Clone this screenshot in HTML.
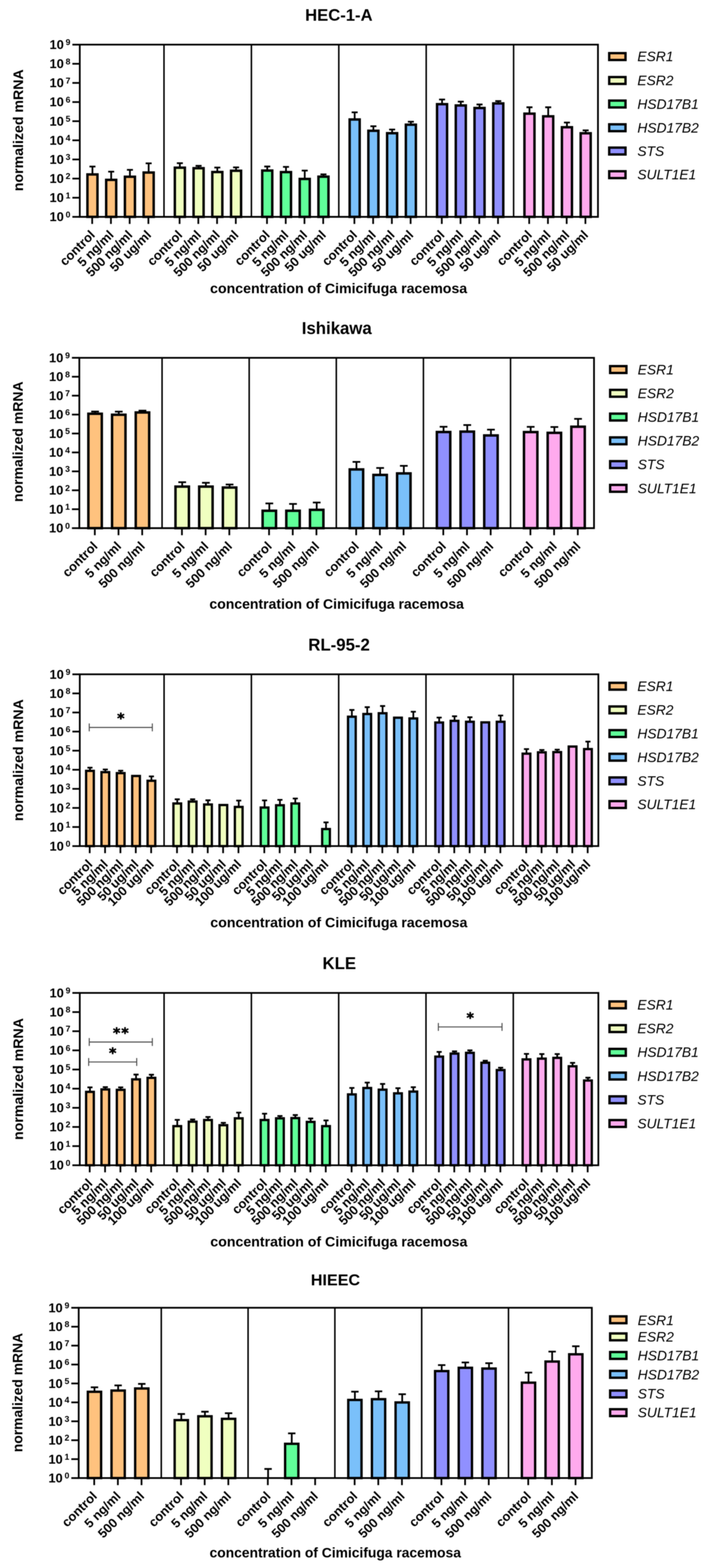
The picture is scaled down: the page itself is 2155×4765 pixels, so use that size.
<!DOCTYPE html>
<html><head><meta charset="utf-8"><title>normalized mRNA</title>
<style>
html,body{margin:0;padding:0;background:#fff;}
svg{display:block;filter:blur(0.8px);}
.b{font-family:"Liberation Sans",Arial,sans-serif;font-weight:bold;fill:#000;}
.i{font-family:"Liberation Sans",Arial,sans-serif;font-style:italic;font-size:42px;fill:#000;}
.a{font-family:"DejaVu Sans",sans-serif;font-weight:bold;font-size:43px;fill:#000;stroke:#000;stroke-width:1.5px;stroke-linejoin:round;}
.l{fill:none;stroke:#000;stroke-linecap:butt;stroke-linejoin:miter;}
.e{fill:none;stroke:#000;stroke-linecap:butt;}
.r{stroke:#000;stroke-linejoin:miter;}
.s{fill:none;stroke:#4d4d4d;stroke-width:3.1;}
</style></head>
<body>
<svg width="2155" height="4765" viewBox="0 0 2155 4765">
<rect width="2155" height="4765" fill="#fff"/>
<g>
<text x="1030" y="63.1" text-anchor="middle" class="b" font-size="50.5">HEC-1-A</text>
<path d="M281 530.1V506.2M271.85 506.2H290.15" class="e" stroke-width="5.3"/>
<path d="M337.95 546.6V521.6M328.8 521.6H347.1" class="e" stroke-width="5.3"/>
<path d="M394.9 537.1V516.1M385.75 516.1H404.05" class="e" stroke-width="5.3"/>
<path d="M451.85 524.3V496.4M442.7 496.4H461" class="e" stroke-width="5.3"/>
<path d="M546.66 509.6V495.9M537.51 495.9H555.81" class="e" stroke-width="5.3"/>
<path d="M603.61 511.2V504M594.46 504H612.76" class="e" stroke-width="5.3"/>
<path d="M660.56 522.8V509.1M651.41 509.1H669.71" class="e" stroke-width="5.3"/>
<path d="M717.51 518.9V508.7M708.36 508.7H726.66" class="e" stroke-width="5.3"/>
<path d="M812.32 518.3V506M803.17 506H821.47" class="e" stroke-width="5.3"/>
<path d="M869.27 523V507.2M860.12 507.2H878.42" class="e" stroke-width="5.3"/>
<path d="M926.22 543.8V518.3M917.07 518.3H935.37" class="e" stroke-width="5.3"/>
<path d="M983.17 536.9V529.9M974.02 529.9H992.32" class="e" stroke-width="5.3"/>
<path d="M1077.98 363.1V341.3M1068.83 341.3H1087.13" class="e" stroke-width="5.3"/>
<path d="M1134.93 397.4V383.7M1125.78 383.7H1144.08" class="e" stroke-width="5.3"/>
<path d="M1191.88 404.8V393.7M1182.73 393.7H1201.03" class="e" stroke-width="5.3"/>
<path d="M1248.83 378.9V369.8M1239.68 369.8H1257.98" class="e" stroke-width="5.3"/>
<path d="M1343.64 316.6V302.4M1334.49 302.4H1352.79" class="e" stroke-width="5.3"/>
<path d="M1400.59 320.5V308.9M1391.44 308.9H1409.74" class="e" stroke-width="5.3"/>
<path d="M1457.54 328.2V317.5M1448.39 317.5H1466.69" class="e" stroke-width="5.3"/>
<path d="M1514.49 314.3V307.1M1505.34 307.1H1523.64" class="e" stroke-width="5.3"/>
<path d="M1609.3 345.4V326M1600.15 326H1618.45" class="e" stroke-width="5.3"/>
<path d="M1666.25 353.5V326M1657.1 326H1675.4" class="e" stroke-width="5.3"/>
<path d="M1723.2 386.7V372.3M1714.05 372.3H1732.35" class="e" stroke-width="5.3"/>
<path d="M1780.15 405V396.2M1771 396.2H1789.3" class="e" stroke-width="5.3"/>
<rect x="265.75" y="530.1" width="30.5" height="128.9" fill="#FFC27E" stroke-width="7.4" class="r"/>
<rect x="322.7" y="546.6" width="30.5" height="112.4" fill="#FFC27E" stroke-width="7.4" class="r"/>
<rect x="379.65" y="537.1" width="30.5" height="121.9" fill="#FFC27E" stroke-width="7.4" class="r"/>
<rect x="436.6" y="524.3" width="30.5" height="134.7" fill="#FFC27E" stroke-width="7.4" class="r"/>
<rect x="531.41" y="509.6" width="30.5" height="149.4" fill="#F0FFC0" stroke-width="7.4" class="r"/>
<rect x="588.36" y="511.2" width="30.5" height="147.8" fill="#F0FFC0" stroke-width="7.4" class="r"/>
<rect x="645.31" y="522.8" width="30.5" height="136.2" fill="#F0FFC0" stroke-width="7.4" class="r"/>
<rect x="702.26" y="518.9" width="30.5" height="140.1" fill="#F0FFC0" stroke-width="7.4" class="r"/>
<rect x="797.07" y="518.3" width="30.5" height="140.7" fill="#60FF99" stroke-width="7.4" class="r"/>
<rect x="854.02" y="523" width="30.5" height="136" fill="#60FF99" stroke-width="7.4" class="r"/>
<rect x="910.97" y="543.8" width="30.5" height="115.2" fill="#60FF99" stroke-width="7.4" class="r"/>
<rect x="967.92" y="536.9" width="30.5" height="122.1" fill="#60FF99" stroke-width="7.4" class="r"/>
<rect x="1062.73" y="363.1" width="30.5" height="295.9" fill="#7AC0FA" stroke-width="7.4" class="r"/>
<rect x="1119.68" y="397.4" width="30.5" height="261.6" fill="#7AC0FA" stroke-width="7.4" class="r"/>
<rect x="1176.63" y="404.8" width="30.5" height="254.2" fill="#7AC0FA" stroke-width="7.4" class="r"/>
<rect x="1233.58" y="378.9" width="30.5" height="280.1" fill="#7AC0FA" stroke-width="7.4" class="r"/>
<rect x="1328.39" y="316.6" width="30.5" height="342.4" fill="#9090FF" stroke-width="7.4" class="r"/>
<rect x="1385.34" y="320.5" width="30.5" height="338.5" fill="#9090FF" stroke-width="7.4" class="r"/>
<rect x="1442.29" y="328.2" width="30.5" height="330.8" fill="#9090FF" stroke-width="7.4" class="r"/>
<rect x="1499.24" y="314.3" width="30.5" height="344.7" fill="#9090FF" stroke-width="7.4" class="r"/>
<rect x="1594.05" y="345.4" width="30.5" height="313.6" fill="#FFAAEE" stroke-width="7.4" class="r"/>
<rect x="1651" y="353.5" width="30.5" height="305.5" fill="#FFAAEE" stroke-width="7.4" class="r"/>
<rect x="1707.95" y="386.7" width="30.5" height="272.3" fill="#FFAAEE" stroke-width="7.4" class="r"/>
<rect x="1764.9" y="405" width="30.5" height="254" fill="#FFAAEE" stroke-width="7.4" class="r"/>
<path d="M242.5 135.7H1817.5V659H242.5Z" class="l" stroke-width="5.3"/>
<path d="M498.46 135.7V659" class="l" stroke-width="4.6"/>
<path d="M764.12 135.7V659" class="l" stroke-width="4.6"/>
<path d="M1029.78 135.7V659" class="l" stroke-width="4.6"/>
<path d="M1295.44 135.7V659" class="l" stroke-width="4.6"/>
<path d="M1561.1 135.7V659" class="l" stroke-width="4.6"/>
<path d="M220 659H242.5" class="l" stroke-width="5.3"/>
<text x="213.9" y="672.3" text-anchor="end" class="b" font-size="39">10<tspan dx="5.6" dy="-11.6" font-size="26">0</tspan></text>
<path d="M220 600.86H242.5" class="l" stroke-width="5.3"/>
<text x="213.9" y="614.16" text-anchor="end" class="b" font-size="39">10<tspan dx="5.6" dy="-11.6" font-size="26">1</tspan></text>
<path d="M220 542.71H242.5" class="l" stroke-width="5.3"/>
<text x="213.9" y="556.01" text-anchor="end" class="b" font-size="39">10<tspan dx="5.6" dy="-11.6" font-size="26">2</tspan></text>
<path d="M220 484.57H242.5" class="l" stroke-width="5.3"/>
<text x="213.9" y="497.87" text-anchor="end" class="b" font-size="39">10<tspan dx="5.6" dy="-11.6" font-size="26">3</tspan></text>
<path d="M220 426.42H242.5" class="l" stroke-width="5.3"/>
<text x="213.9" y="439.72" text-anchor="end" class="b" font-size="39">10<tspan dx="5.6" dy="-11.6" font-size="26">4</tspan></text>
<path d="M220 368.28H242.5" class="l" stroke-width="5.3"/>
<text x="213.9" y="381.58" text-anchor="end" class="b" font-size="39">10<tspan dx="5.6" dy="-11.6" font-size="26">5</tspan></text>
<path d="M220 310.13H242.5" class="l" stroke-width="5.3"/>
<text x="213.9" y="323.43" text-anchor="end" class="b" font-size="39">10<tspan dx="5.6" dy="-11.6" font-size="26">6</tspan></text>
<path d="M220 251.99H242.5" class="l" stroke-width="5.3"/>
<text x="213.9" y="265.29" text-anchor="end" class="b" font-size="39">10<tspan dx="5.6" dy="-11.6" font-size="26">7</tspan></text>
<path d="M220 193.84H242.5" class="l" stroke-width="5.3"/>
<text x="213.9" y="207.14" text-anchor="end" class="b" font-size="39">10<tspan dx="5.6" dy="-11.6" font-size="26">8</tspan></text>
<path d="M220 135.7H242.5" class="l" stroke-width="5.3"/>
<text x="213.9" y="149" text-anchor="end" class="b" font-size="39">10<tspan dx="5.6" dy="-11.6" font-size="26">9</tspan></text>
<path d="M280.2 659V680.5" class="l" stroke-width="5.3"/>
<text transform="translate(291 716.3) rotate(-45)" text-anchor="end" class="b" font-size="39">control</text>
<path d="M337.15 659V680.5" class="l" stroke-width="5.3"/>
<text transform="translate(347.95 716.3) rotate(-45)" text-anchor="end" class="b" font-size="39">5 ng/ml</text>
<path d="M394.1 659V680.5" class="l" stroke-width="5.3"/>
<text transform="translate(404.9 716.3) rotate(-45)" text-anchor="end" class="b" font-size="39">500 ng/ml</text>
<path d="M451.05 659V680.5" class="l" stroke-width="5.3"/>
<text transform="translate(461.85 716.3) rotate(-45)" text-anchor="end" class="b" font-size="39">50 ug/ml</text>
<path d="M545.86 659V680.5" class="l" stroke-width="5.3"/>
<text transform="translate(556.66 716.3) rotate(-45)" text-anchor="end" class="b" font-size="39">control</text>
<path d="M602.81 659V680.5" class="l" stroke-width="5.3"/>
<text transform="translate(613.61 716.3) rotate(-45)" text-anchor="end" class="b" font-size="39">5 ng/ml</text>
<path d="M659.76 659V680.5" class="l" stroke-width="5.3"/>
<text transform="translate(670.56 716.3) rotate(-45)" text-anchor="end" class="b" font-size="39">500 ng/ml</text>
<path d="M716.71 659V680.5" class="l" stroke-width="5.3"/>
<text transform="translate(727.51 716.3) rotate(-45)" text-anchor="end" class="b" font-size="39">50 ug/ml</text>
<path d="M811.52 659V680.5" class="l" stroke-width="5.3"/>
<text transform="translate(822.32 716.3) rotate(-45)" text-anchor="end" class="b" font-size="39">control</text>
<path d="M868.47 659V680.5" class="l" stroke-width="5.3"/>
<text transform="translate(879.27 716.3) rotate(-45)" text-anchor="end" class="b" font-size="39">5 ng/ml</text>
<path d="M925.42 659V680.5" class="l" stroke-width="5.3"/>
<text transform="translate(936.22 716.3) rotate(-45)" text-anchor="end" class="b" font-size="39">500 ng/ml</text>
<path d="M982.37 659V680.5" class="l" stroke-width="5.3"/>
<text transform="translate(993.17 716.3) rotate(-45)" text-anchor="end" class="b" font-size="39">50 ug/ml</text>
<path d="M1077.18 659V680.5" class="l" stroke-width="5.3"/>
<text transform="translate(1087.98 716.3) rotate(-45)" text-anchor="end" class="b" font-size="39">control</text>
<path d="M1134.13 659V680.5" class="l" stroke-width="5.3"/>
<text transform="translate(1144.93 716.3) rotate(-45)" text-anchor="end" class="b" font-size="39">5 ng/ml</text>
<path d="M1191.08 659V680.5" class="l" stroke-width="5.3"/>
<text transform="translate(1201.88 716.3) rotate(-45)" text-anchor="end" class="b" font-size="39">500 ng/ml</text>
<path d="M1248.03 659V680.5" class="l" stroke-width="5.3"/>
<text transform="translate(1258.83 716.3) rotate(-45)" text-anchor="end" class="b" font-size="39">50 ug/ml</text>
<path d="M1342.84 659V680.5" class="l" stroke-width="5.3"/>
<text transform="translate(1353.64 716.3) rotate(-45)" text-anchor="end" class="b" font-size="39">control</text>
<path d="M1399.79 659V680.5" class="l" stroke-width="5.3"/>
<text transform="translate(1410.59 716.3) rotate(-45)" text-anchor="end" class="b" font-size="39">5 ng/ml</text>
<path d="M1456.74 659V680.5" class="l" stroke-width="5.3"/>
<text transform="translate(1467.54 716.3) rotate(-45)" text-anchor="end" class="b" font-size="39">500 ng/ml</text>
<path d="M1513.69 659V680.5" class="l" stroke-width="5.3"/>
<text transform="translate(1524.49 716.3) rotate(-45)" text-anchor="end" class="b" font-size="39">50 ug/ml</text>
<path d="M1608.5 659V680.5" class="l" stroke-width="5.3"/>
<text transform="translate(1619.3 716.3) rotate(-45)" text-anchor="end" class="b" font-size="39">control</text>
<path d="M1665.45 659V680.5" class="l" stroke-width="5.3"/>
<text transform="translate(1676.25 716.3) rotate(-45)" text-anchor="end" class="b" font-size="39">5 ng/ml</text>
<path d="M1722.4 659V680.5" class="l" stroke-width="5.3"/>
<text transform="translate(1733.2 716.3) rotate(-45)" text-anchor="end" class="b" font-size="39">500 ng/ml</text>
<path d="M1779.35 659V680.5" class="l" stroke-width="5.3"/>
<text transform="translate(1790.15 716.3) rotate(-45)" text-anchor="end" class="b" font-size="39">50 ug/ml</text>
<text x="1029.3" y="890.5" text-anchor="middle" class="b" font-size="43">concentration of Cimicifuga racemosa</text>
<text transform="translate(69.7 395.9) rotate(-90)" text-anchor="middle" class="b" font-size="43">normalized mRNA</text>
<rect x="1851.7" y="161.5" width="49.5" height="20.8" fill="#FFC27E" stroke-width="7.2" class="r"/>
<text x="1937.2" y="186.4" class="i">ESR1</text>
<rect x="1851.7" y="234.2" width="49.5" height="20.8" fill="#F0FFC0" stroke-width="7.2" class="r"/>
<text x="1937.2" y="259.1" class="i">ESR2</text>
<rect x="1851.7" y="305.7" width="49.5" height="20.8" fill="#60FF99" stroke-width="7.2" class="r"/>
<text x="1937.2" y="330.6" class="i">HSD17B1</text>
<rect x="1851.7" y="377.8" width="49.5" height="20.8" fill="#7AC0FA" stroke-width="7.2" class="r"/>
<text x="1937.2" y="402.7" class="i">HSD17B2</text>
<rect x="1851.7" y="448.6" width="49.5" height="20.8" fill="#9090FF" stroke-width="7.2" class="r"/>
<text x="1937.2" y="473.5" class="i">STS</text>
<rect x="1851.7" y="520.4" width="49.5" height="20.8" fill="#FFAAEE" stroke-width="7.2" class="r"/>
<text x="1937.2" y="545.3" class="i">SULT1E1</text>
</g>
<g>
<text x="1023.6" y="1015.4" text-anchor="middle" class="b" font-size="51">Ishikawa</text>
<path d="M289 1257.35V1250.6M277.25 1250.6H300.75" class="e" stroke-width="5.3"/>
<path d="M361 1260.35V1250.8M349.25 1250.8H372.75" class="e" stroke-width="5.3"/>
<path d="M433 1253.45V1247.8M421.25 1247.8H444.75" class="e" stroke-width="5.3"/>
<path d="M553.8 1478.75V1465.4M542.05 1465.4H565.55" class="e" stroke-width="5.3"/>
<path d="M625.8 1478.75V1467.2M614.05 1467.2H637.55" class="e" stroke-width="5.3"/>
<path d="M697.8 1481.55V1472.3M686.05 1472.3H709.55" class="e" stroke-width="5.3"/>
<path d="M818.6 1552.15V1529.9M806.85 1529.9H830.35" class="e" stroke-width="5.3"/>
<path d="M890.6 1552.15V1531.3M878.85 1531.3H902.35" class="e" stroke-width="5.3"/>
<path d="M962.6 1549.35V1527.1M950.85 1527.1H974.35" class="e" stroke-width="5.3"/>
<path d="M1083.4 1426.55V1403.6M1071.65 1403.6H1095.15" class="e" stroke-width="5.3"/>
<path d="M1155.4 1443.25V1422.1M1143.65 1422.1H1167.15" class="e" stroke-width="5.3"/>
<path d="M1227.4 1438.65V1415.7M1215.65 1415.7H1239.15" class="e" stroke-width="5.3"/>
<path d="M1348.2 1312.85V1296.8M1336.45 1296.8H1359.95" class="e" stroke-width="5.3"/>
<path d="M1420.2 1311.65V1291.7M1408.45 1291.7H1431.95" class="e" stroke-width="5.3"/>
<path d="M1492.2 1323.25V1305.6M1480.45 1305.6H1503.95" class="e" stroke-width="5.3"/>
<path d="M1613 1313.05V1297.2M1601.25 1297.2H1624.75" class="e" stroke-width="5.3"/>
<path d="M1685 1315.35V1297.7M1673.25 1297.7H1696.75" class="e" stroke-width="5.3"/>
<path d="M1757 1296.75V1272.9M1745.25 1272.9H1768.75" class="e" stroke-width="5.3"/>
<rect x="268.6" y="1257.35" width="40.8" height="347.65" fill="#FFC27E" stroke-width="7.5" class="r"/>
<rect x="340.6" y="1260.35" width="40.8" height="344.65" fill="#FFC27E" stroke-width="7.5" class="r"/>
<rect x="412.6" y="1253.45" width="40.8" height="351.55" fill="#FFC27E" stroke-width="7.5" class="r"/>
<rect x="533.4" y="1478.75" width="40.8" height="126.25" fill="#F0FFC0" stroke-width="7.5" class="r"/>
<rect x="605.4" y="1478.75" width="40.8" height="126.25" fill="#F0FFC0" stroke-width="7.5" class="r"/>
<rect x="677.4" y="1481.55" width="40.8" height="123.45" fill="#F0FFC0" stroke-width="7.5" class="r"/>
<rect x="798.2" y="1552.15" width="40.8" height="52.85" fill="#60FF99" stroke-width="7.5" class="r"/>
<rect x="870.2" y="1552.15" width="40.8" height="52.85" fill="#60FF99" stroke-width="7.5" class="r"/>
<rect x="942.2" y="1549.35" width="40.8" height="55.65" fill="#60FF99" stroke-width="7.5" class="r"/>
<rect x="1063" y="1426.55" width="40.8" height="178.45" fill="#7AC0FA" stroke-width="7.5" class="r"/>
<rect x="1135" y="1443.25" width="40.8" height="161.75" fill="#7AC0FA" stroke-width="7.5" class="r"/>
<rect x="1207" y="1438.65" width="40.8" height="166.35" fill="#7AC0FA" stroke-width="7.5" class="r"/>
<rect x="1327.8" y="1312.85" width="40.8" height="292.15" fill="#9090FF" stroke-width="7.5" class="r"/>
<rect x="1399.8" y="1311.65" width="40.8" height="293.35" fill="#9090FF" stroke-width="7.5" class="r"/>
<rect x="1471.8" y="1323.25" width="40.8" height="281.75" fill="#9090FF" stroke-width="7.5" class="r"/>
<rect x="1592.6" y="1313.05" width="40.8" height="291.95" fill="#FFAAEE" stroke-width="7.5" class="r"/>
<rect x="1664.6" y="1315.35" width="40.8" height="289.65" fill="#FFAAEE" stroke-width="7.5" class="r"/>
<rect x="1736.6" y="1296.75" width="40.8" height="308.25" fill="#FFAAEE" stroke-width="7.5" class="r"/>
<path d="M241.1 1087.3H1805.5V1605H241.1Z" class="l" stroke-width="5.3"/>
<path d="M492.6 1087.3V1605" class="l" stroke-width="4.6"/>
<path d="M757.4 1087.3V1605" class="l" stroke-width="4.6"/>
<path d="M1022.2 1087.3V1605" class="l" stroke-width="4.6"/>
<path d="M1287 1087.3V1605" class="l" stroke-width="4.6"/>
<path d="M1551.8 1087.3V1605" class="l" stroke-width="4.6"/>
<path d="M218.6 1605H241.1" class="l" stroke-width="5.3"/>
<text x="212.5" y="1618.3" text-anchor="end" class="b" font-size="39">10<tspan dx="5.6" dy="-11.6" font-size="26">0</tspan></text>
<path d="M218.6 1547.48H241.1" class="l" stroke-width="5.3"/>
<text x="212.5" y="1560.78" text-anchor="end" class="b" font-size="39">10<tspan dx="5.6" dy="-11.6" font-size="26">1</tspan></text>
<path d="M218.6 1489.96H241.1" class="l" stroke-width="5.3"/>
<text x="212.5" y="1503.26" text-anchor="end" class="b" font-size="39">10<tspan dx="5.6" dy="-11.6" font-size="26">2</tspan></text>
<path d="M218.6 1432.43H241.1" class="l" stroke-width="5.3"/>
<text x="212.5" y="1445.73" text-anchor="end" class="b" font-size="39">10<tspan dx="5.6" dy="-11.6" font-size="26">3</tspan></text>
<path d="M218.6 1374.91H241.1" class="l" stroke-width="5.3"/>
<text x="212.5" y="1388.21" text-anchor="end" class="b" font-size="39">10<tspan dx="5.6" dy="-11.6" font-size="26">4</tspan></text>
<path d="M218.6 1317.39H241.1" class="l" stroke-width="5.3"/>
<text x="212.5" y="1330.69" text-anchor="end" class="b" font-size="39">10<tspan dx="5.6" dy="-11.6" font-size="26">5</tspan></text>
<path d="M218.6 1259.87H241.1" class="l" stroke-width="5.3"/>
<text x="212.5" y="1273.17" text-anchor="end" class="b" font-size="39">10<tspan dx="5.6" dy="-11.6" font-size="26">6</tspan></text>
<path d="M218.6 1202.34H241.1" class="l" stroke-width="5.3"/>
<text x="212.5" y="1215.64" text-anchor="end" class="b" font-size="39">10<tspan dx="5.6" dy="-11.6" font-size="26">7</tspan></text>
<path d="M218.6 1144.82H241.1" class="l" stroke-width="5.3"/>
<text x="212.5" y="1158.12" text-anchor="end" class="b" font-size="39">10<tspan dx="5.6" dy="-11.6" font-size="26">8</tspan></text>
<path d="M218.6 1087.3H241.1" class="l" stroke-width="5.3"/>
<text x="212.5" y="1100.6" text-anchor="end" class="b" font-size="39">10<tspan dx="5.6" dy="-11.6" font-size="26">9</tspan></text>
<path d="M288.2 1605V1626.5" class="l" stroke-width="5.3"/>
<text transform="translate(299 1662.3) rotate(-45)" text-anchor="end" class="b" font-size="39">control</text>
<path d="M360.2 1605V1626.5" class="l" stroke-width="5.3"/>
<text transform="translate(371 1662.3) rotate(-45)" text-anchor="end" class="b" font-size="39">5 ng/ml</text>
<path d="M432.2 1605V1626.5" class="l" stroke-width="5.3"/>
<text transform="translate(443 1662.3) rotate(-45)" text-anchor="end" class="b" font-size="39">500 ng/ml</text>
<path d="M553 1605V1626.5" class="l" stroke-width="5.3"/>
<text transform="translate(563.8 1662.3) rotate(-45)" text-anchor="end" class="b" font-size="39">control</text>
<path d="M625 1605V1626.5" class="l" stroke-width="5.3"/>
<text transform="translate(635.8 1662.3) rotate(-45)" text-anchor="end" class="b" font-size="39">5 ng/ml</text>
<path d="M697 1605V1626.5" class="l" stroke-width="5.3"/>
<text transform="translate(707.8 1662.3) rotate(-45)" text-anchor="end" class="b" font-size="39">500 ng/ml</text>
<path d="M817.8 1605V1626.5" class="l" stroke-width="5.3"/>
<text transform="translate(828.6 1662.3) rotate(-45)" text-anchor="end" class="b" font-size="39">control</text>
<path d="M889.8 1605V1626.5" class="l" stroke-width="5.3"/>
<text transform="translate(900.6 1662.3) rotate(-45)" text-anchor="end" class="b" font-size="39">5 ng/ml</text>
<path d="M961.8 1605V1626.5" class="l" stroke-width="5.3"/>
<text transform="translate(972.6 1662.3) rotate(-45)" text-anchor="end" class="b" font-size="39">500 ng/ml</text>
<path d="M1082.6 1605V1626.5" class="l" stroke-width="5.3"/>
<text transform="translate(1093.4 1662.3) rotate(-45)" text-anchor="end" class="b" font-size="39">control</text>
<path d="M1154.6 1605V1626.5" class="l" stroke-width="5.3"/>
<text transform="translate(1165.4 1662.3) rotate(-45)" text-anchor="end" class="b" font-size="39">5 ng/ml</text>
<path d="M1226.6 1605V1626.5" class="l" stroke-width="5.3"/>
<text transform="translate(1237.4 1662.3) rotate(-45)" text-anchor="end" class="b" font-size="39">500 ng/ml</text>
<path d="M1347.4 1605V1626.5" class="l" stroke-width="5.3"/>
<text transform="translate(1358.2 1662.3) rotate(-45)" text-anchor="end" class="b" font-size="39">control</text>
<path d="M1419.4 1605V1626.5" class="l" stroke-width="5.3"/>
<text transform="translate(1430.2 1662.3) rotate(-45)" text-anchor="end" class="b" font-size="39">5 ng/ml</text>
<path d="M1491.4 1605V1626.5" class="l" stroke-width="5.3"/>
<text transform="translate(1502.2 1662.3) rotate(-45)" text-anchor="end" class="b" font-size="39">500 ng/ml</text>
<path d="M1612.2 1605V1626.5" class="l" stroke-width="5.3"/>
<text transform="translate(1623 1662.3) rotate(-45)" text-anchor="end" class="b" font-size="39">control</text>
<path d="M1684.2 1605V1626.5" class="l" stroke-width="5.3"/>
<text transform="translate(1695 1662.3) rotate(-45)" text-anchor="end" class="b" font-size="39">5 ng/ml</text>
<path d="M1756.2 1605V1626.5" class="l" stroke-width="5.3"/>
<text transform="translate(1767 1662.3) rotate(-45)" text-anchor="end" class="b" font-size="39">500 ng/ml</text>
<text x="1023.3" y="1850" text-anchor="middle" class="b" font-size="42.57">concentration of Cimicifuga racemosa</text>
<text transform="translate(68.6 1342.3) rotate(-90)" text-anchor="middle" class="b" font-size="42.57">normalized mRNA</text>
<rect x="1854.5" y="1112.6" width="49.5" height="20.8" fill="#FFC27E" stroke-width="7.2" class="r"/>
<text x="1938.3" y="1137.5" class="i">ESR1</text>
<rect x="1854.5" y="1184.8" width="49.5" height="20.8" fill="#F0FFC0" stroke-width="7.2" class="r"/>
<text x="1938.3" y="1209.7" class="i">ESR2</text>
<rect x="1854.5" y="1257" width="49.5" height="20.8" fill="#60FF99" stroke-width="7.2" class="r"/>
<text x="1938.3" y="1281.9" class="i">HSD17B1</text>
<rect x="1854.5" y="1329.2" width="49.5" height="20.8" fill="#7AC0FA" stroke-width="7.2" class="r"/>
<text x="1938.3" y="1354.1" class="i">HSD17B2</text>
<rect x="1854.5" y="1401.4" width="49.5" height="20.8" fill="#9090FF" stroke-width="7.2" class="r"/>
<text x="1938.3" y="1426.3" class="i">STS</text>
<rect x="1854.5" y="1473.6" width="49.5" height="20.8" fill="#FFAAEE" stroke-width="7.2" class="r"/>
<text x="1938.3" y="1498.5" class="i">SULT1E1</text>
</g>
<g>
<text x="1030.6" y="1977.2" text-anchor="middle" class="b" font-size="51">RL-95-2</text>
<path d="M273.43 2342.6V2332.8M265.68 2332.8H281.18" class="e" stroke-width="5.3"/>
<path d="M320.13 2346.5V2338.4M312.38 2338.4H327.88" class="e" stroke-width="5.3"/>
<path d="M366.83 2349.5V2342.1M359.08 2342.1H374.58" class="e" stroke-width="5.3"/>
<path d="M460.23 2372.7V2359.3M452.48 2359.3H467.98" class="e" stroke-width="5.3"/>
<path d="M538.79 2441.7V2429M531.04 2429H546.54" class="e" stroke-width="5.3"/>
<path d="M585.49 2435.9V2429M577.74 2429H593.24" class="e" stroke-width="5.3"/>
<path d="M632.19 2444.8V2432M624.44 2432H639.94" class="e" stroke-width="5.3"/>
<path d="M725.59 2452.2V2432.9M717.84 2432.9H733.34" class="e" stroke-width="5.3"/>
<path d="M804.15 2454V2432.4M796.4 2432.4H811.9" class="e" stroke-width="5.3"/>
<path d="M850.85 2447.1V2430.6M843.1 2430.6H858.6" class="e" stroke-width="5.3"/>
<path d="M897.55 2441.7V2426.7M889.8 2426.7H905.3" class="e" stroke-width="5.3"/>
<path d="M990.95 2519.4V2499.2M983.2 2499.2H998.7" class="e" stroke-width="5.3"/>
<path d="M1069.51 2178V2157.5M1061.76 2157.5H1077.26" class="e" stroke-width="5.3"/>
<path d="M1116.21 2169.8V2149M1108.46 2149H1123.96" class="e" stroke-width="5.3"/>
<path d="M1162.91 2167.5V2145.5M1155.16 2145.5H1170.66" class="e" stroke-width="5.3"/>
<path d="M1256.31 2183.3V2162.9M1248.56 2162.9H1264.06" class="e" stroke-width="5.3"/>
<path d="M1334.87 2195.7V2180.6M1327.12 2180.6H1342.62" class="e" stroke-width="5.3"/>
<path d="M1381.57 2190.6V2176.7M1373.82 2176.7H1389.32" class="e" stroke-width="5.3"/>
<path d="M1428.27 2193.4V2179.7M1420.52 2179.7H1436.02" class="e" stroke-width="5.3"/>
<path d="M1521.67 2193.4V2174.3M1513.92 2174.3H1529.42" class="e" stroke-width="5.3"/>
<path d="M1600.23 2290.3V2276.3M1592.48 2276.3H1607.98" class="e" stroke-width="5.3"/>
<path d="M1646.93 2286.3V2279.1M1639.18 2279.1H1654.68" class="e" stroke-width="5.3"/>
<path d="M1693.63 2285.6V2278.2M1685.88 2278.2H1701.38" class="e" stroke-width="5.3"/>
<path d="M1787.03 2276.4V2253.6M1779.28 2253.6H1794.78" class="e" stroke-width="5.3"/>
<rect x="261.73" y="2342.6" width="23.4" height="228.6" fill="#FFC27E" stroke-width="7" class="r"/>
<rect x="308.43" y="2346.5" width="23.4" height="224.7" fill="#FFC27E" stroke-width="7" class="r"/>
<rect x="355.13" y="2349.5" width="23.4" height="221.7" fill="#FFC27E" stroke-width="7" class="r"/>
<rect x="401.83" y="2358.1" width="23.4" height="213.1" fill="#FFC27E" stroke-width="7" class="r"/>
<rect x="448.53" y="2372.7" width="23.4" height="198.5" fill="#FFC27E" stroke-width="7" class="r"/>
<rect x="527.09" y="2441.7" width="23.4" height="129.5" fill="#F0FFC0" stroke-width="7" class="r"/>
<rect x="573.79" y="2435.9" width="23.4" height="135.3" fill="#F0FFC0" stroke-width="7" class="r"/>
<rect x="620.49" y="2444.8" width="23.4" height="126.4" fill="#F0FFC0" stroke-width="7" class="r"/>
<rect x="667.19" y="2446.4" width="23.4" height="124.8" fill="#F0FFC0" stroke-width="7" class="r"/>
<rect x="713.89" y="2452.2" width="23.4" height="119" fill="#F0FFC0" stroke-width="7" class="r"/>
<rect x="792.45" y="2454" width="23.4" height="117.2" fill="#60FF99" stroke-width="7" class="r"/>
<rect x="839.15" y="2447.1" width="23.4" height="124.1" fill="#60FF99" stroke-width="7" class="r"/>
<rect x="885.85" y="2441.7" width="23.4" height="129.5" fill="#60FF99" stroke-width="7" class="r"/>
<rect x="979.25" y="2519.4" width="23.4" height="51.8" fill="#60FF99" stroke-width="7" class="r"/>
<rect x="1057.81" y="2178" width="23.4" height="393.2" fill="#7AC0FA" stroke-width="7" class="r"/>
<rect x="1104.51" y="2169.8" width="23.4" height="401.4" fill="#7AC0FA" stroke-width="7" class="r"/>
<rect x="1151.21" y="2167.5" width="23.4" height="403.7" fill="#7AC0FA" stroke-width="7" class="r"/>
<rect x="1197.91" y="2181" width="23.4" height="390.2" fill="#7AC0FA" stroke-width="7" class="r"/>
<rect x="1244.61" y="2183.3" width="23.4" height="387.9" fill="#7AC0FA" stroke-width="7" class="r"/>
<rect x="1323.17" y="2195.7" width="23.4" height="375.5" fill="#9090FF" stroke-width="7" class="r"/>
<rect x="1369.87" y="2190.6" width="23.4" height="380.6" fill="#9090FF" stroke-width="7" class="r"/>
<rect x="1416.57" y="2193.4" width="23.4" height="377.8" fill="#9090FF" stroke-width="7" class="r"/>
<rect x="1463.27" y="2195.2" width="23.4" height="376" fill="#9090FF" stroke-width="7" class="r"/>
<rect x="1509.97" y="2193.4" width="23.4" height="377.8" fill="#9090FF" stroke-width="7" class="r"/>
<rect x="1588.53" y="2290.3" width="23.4" height="280.9" fill="#FFAAEE" stroke-width="7" class="r"/>
<rect x="1635.23" y="2286.3" width="23.4" height="284.9" fill="#FFAAEE" stroke-width="7" class="r"/>
<rect x="1681.93" y="2285.6" width="23.4" height="285.6" fill="#FFAAEE" stroke-width="7" class="r"/>
<rect x="1728.63" y="2268.7" width="23.4" height="302.5" fill="#FFAAEE" stroke-width="7" class="r"/>
<rect x="1775.33" y="2276.4" width="23.4" height="294.8" fill="#FFAAEE" stroke-width="7" class="r"/>
<path d="M242.5 2049.2H1818.7V2571.2H242.5Z" class="l" stroke-width="5.3"/>
<path d="M498.71 2049.2V2571.2" class="l" stroke-width="4.6"/>
<path d="M764.07 2049.2V2571.2" class="l" stroke-width="4.6"/>
<path d="M1029.43 2049.2V2571.2" class="l" stroke-width="4.6"/>
<path d="M1294.79 2049.2V2571.2" class="l" stroke-width="4.6"/>
<path d="M1560.15 2049.2V2571.2" class="l" stroke-width="4.6"/>
<path d="M220 2571.2H242.5" class="l" stroke-width="5.3"/>
<text x="213.9" y="2584.5" text-anchor="end" class="b" font-size="39">10<tspan dx="5.6" dy="-11.6" font-size="26">0</tspan></text>
<path d="M220 2513.2H242.5" class="l" stroke-width="5.3"/>
<text x="213.9" y="2526.5" text-anchor="end" class="b" font-size="39">10<tspan dx="5.6" dy="-11.6" font-size="26">1</tspan></text>
<path d="M220 2455.2H242.5" class="l" stroke-width="5.3"/>
<text x="213.9" y="2468.5" text-anchor="end" class="b" font-size="39">10<tspan dx="5.6" dy="-11.6" font-size="26">2</tspan></text>
<path d="M220 2397.2H242.5" class="l" stroke-width="5.3"/>
<text x="213.9" y="2410.5" text-anchor="end" class="b" font-size="39">10<tspan dx="5.6" dy="-11.6" font-size="26">3</tspan></text>
<path d="M220 2339.2H242.5" class="l" stroke-width="5.3"/>
<text x="213.9" y="2352.5" text-anchor="end" class="b" font-size="39">10<tspan dx="5.6" dy="-11.6" font-size="26">4</tspan></text>
<path d="M220 2281.2H242.5" class="l" stroke-width="5.3"/>
<text x="213.9" y="2294.5" text-anchor="end" class="b" font-size="39">10<tspan dx="5.6" dy="-11.6" font-size="26">5</tspan></text>
<path d="M220 2223.2H242.5" class="l" stroke-width="5.3"/>
<text x="213.9" y="2236.5" text-anchor="end" class="b" font-size="39">10<tspan dx="5.6" dy="-11.6" font-size="26">6</tspan></text>
<path d="M220 2165.2H242.5" class="l" stroke-width="5.3"/>
<text x="213.9" y="2178.5" text-anchor="end" class="b" font-size="39">10<tspan dx="5.6" dy="-11.6" font-size="26">7</tspan></text>
<path d="M220 2107.2H242.5" class="l" stroke-width="5.3"/>
<text x="213.9" y="2120.5" text-anchor="end" class="b" font-size="39">10<tspan dx="5.6" dy="-11.6" font-size="26">8</tspan></text>
<path d="M220 2049.2H242.5" class="l" stroke-width="5.3"/>
<text x="213.9" y="2062.5" text-anchor="end" class="b" font-size="39">10<tspan dx="5.6" dy="-11.6" font-size="26">9</tspan></text>
<path d="M272.63 2571.2V2592.7" class="l" stroke-width="5.3"/>
<text transform="translate(283.43 2628.5) rotate(-45)" text-anchor="end" class="b" font-size="39">control</text>
<path d="M319.33 2571.2V2592.7" class="l" stroke-width="5.3"/>
<text transform="translate(330.13 2628.5) rotate(-45)" text-anchor="end" class="b" font-size="39">5 ng/ml</text>
<path d="M366.03 2571.2V2592.7" class="l" stroke-width="5.3"/>
<text transform="translate(376.83 2628.5) rotate(-45)" text-anchor="end" class="b" font-size="39">500 ng/ml</text>
<path d="M412.73 2571.2V2592.7" class="l" stroke-width="5.3"/>
<text transform="translate(423.53 2628.5) rotate(-45)" text-anchor="end" class="b" font-size="39">50 ug/ml</text>
<path d="M459.43 2571.2V2592.7" class="l" stroke-width="5.3"/>
<text transform="translate(470.23 2628.5) rotate(-45)" text-anchor="end" class="b" font-size="39">100 ug/ml</text>
<path d="M537.99 2571.2V2592.7" class="l" stroke-width="5.3"/>
<text transform="translate(548.79 2628.5) rotate(-45)" text-anchor="end" class="b" font-size="39">control</text>
<path d="M584.69 2571.2V2592.7" class="l" stroke-width="5.3"/>
<text transform="translate(595.49 2628.5) rotate(-45)" text-anchor="end" class="b" font-size="39">5 ng/ml</text>
<path d="M631.39 2571.2V2592.7" class="l" stroke-width="5.3"/>
<text transform="translate(642.19 2628.5) rotate(-45)" text-anchor="end" class="b" font-size="39">500 ng/ml</text>
<path d="M678.09 2571.2V2592.7" class="l" stroke-width="5.3"/>
<text transform="translate(688.89 2628.5) rotate(-45)" text-anchor="end" class="b" font-size="39">50 ug/ml</text>
<path d="M724.79 2571.2V2592.7" class="l" stroke-width="5.3"/>
<text transform="translate(735.59 2628.5) rotate(-45)" text-anchor="end" class="b" font-size="39">100 ug/ml</text>
<path d="M803.35 2571.2V2592.7" class="l" stroke-width="5.3"/>
<text transform="translate(814.15 2628.5) rotate(-45)" text-anchor="end" class="b" font-size="39">control</text>
<path d="M850.05 2571.2V2592.7" class="l" stroke-width="5.3"/>
<text transform="translate(860.85 2628.5) rotate(-45)" text-anchor="end" class="b" font-size="39">5 ng/ml</text>
<path d="M896.75 2571.2V2592.7" class="l" stroke-width="5.3"/>
<text transform="translate(907.55 2628.5) rotate(-45)" text-anchor="end" class="b" font-size="39">500 ng/ml</text>
<path d="M943.45 2571.2V2592.7" class="l" stroke-width="5.3"/>
<text transform="translate(954.25 2628.5) rotate(-45)" text-anchor="end" class="b" font-size="39">50 ug/ml</text>
<path d="M990.15 2571.2V2592.7" class="l" stroke-width="5.3"/>
<text transform="translate(1000.95 2628.5) rotate(-45)" text-anchor="end" class="b" font-size="39">100 ug/ml</text>
<path d="M1068.71 2571.2V2592.7" class="l" stroke-width="5.3"/>
<text transform="translate(1079.51 2628.5) rotate(-45)" text-anchor="end" class="b" font-size="39">control</text>
<path d="M1115.41 2571.2V2592.7" class="l" stroke-width="5.3"/>
<text transform="translate(1126.21 2628.5) rotate(-45)" text-anchor="end" class="b" font-size="39">5 ng/ml</text>
<path d="M1162.11 2571.2V2592.7" class="l" stroke-width="5.3"/>
<text transform="translate(1172.91 2628.5) rotate(-45)" text-anchor="end" class="b" font-size="39">500 ng/ml</text>
<path d="M1208.81 2571.2V2592.7" class="l" stroke-width="5.3"/>
<text transform="translate(1219.61 2628.5) rotate(-45)" text-anchor="end" class="b" font-size="39">50 ug/ml</text>
<path d="M1255.51 2571.2V2592.7" class="l" stroke-width="5.3"/>
<text transform="translate(1266.31 2628.5) rotate(-45)" text-anchor="end" class="b" font-size="39">100 ug/ml</text>
<path d="M1334.07 2571.2V2592.7" class="l" stroke-width="5.3"/>
<text transform="translate(1344.87 2628.5) rotate(-45)" text-anchor="end" class="b" font-size="39">control</text>
<path d="M1380.77 2571.2V2592.7" class="l" stroke-width="5.3"/>
<text transform="translate(1391.57 2628.5) rotate(-45)" text-anchor="end" class="b" font-size="39">5 ng/ml</text>
<path d="M1427.47 2571.2V2592.7" class="l" stroke-width="5.3"/>
<text transform="translate(1438.27 2628.5) rotate(-45)" text-anchor="end" class="b" font-size="39">500 ng/ml</text>
<path d="M1474.17 2571.2V2592.7" class="l" stroke-width="5.3"/>
<text transform="translate(1484.97 2628.5) rotate(-45)" text-anchor="end" class="b" font-size="39">50 ug/ml</text>
<path d="M1520.87 2571.2V2592.7" class="l" stroke-width="5.3"/>
<text transform="translate(1531.67 2628.5) rotate(-45)" text-anchor="end" class="b" font-size="39">100 ug/ml</text>
<path d="M1599.43 2571.2V2592.7" class="l" stroke-width="5.3"/>
<text transform="translate(1610.23 2628.5) rotate(-45)" text-anchor="end" class="b" font-size="39">control</text>
<path d="M1646.13 2571.2V2592.7" class="l" stroke-width="5.3"/>
<text transform="translate(1656.93 2628.5) rotate(-45)" text-anchor="end" class="b" font-size="39">5 ng/ml</text>
<path d="M1692.83 2571.2V2592.7" class="l" stroke-width="5.3"/>
<text transform="translate(1703.63 2628.5) rotate(-45)" text-anchor="end" class="b" font-size="39">500 ng/ml</text>
<path d="M1739.53 2571.2V2592.7" class="l" stroke-width="5.3"/>
<text transform="translate(1750.33 2628.5) rotate(-45)" text-anchor="end" class="b" font-size="39">50 ug/ml</text>
<path d="M1786.23 2571.2V2592.7" class="l" stroke-width="5.3"/>
<text transform="translate(1797.03 2628.5) rotate(-45)" text-anchor="end" class="b" font-size="39">100 ug/ml</text>
<text x="1030" y="2817.7" text-anchor="middle" class="b" font-size="43">concentration of Cimicifuga racemosa</text>
<text transform="translate(69.7 2310) rotate(-90)" text-anchor="middle" class="b" font-size="43">normalized mRNA</text>
<path d="M271.3 2210.6H463M271.3 2198.6V2222.6M463 2198.6V2222.6" class="s"/>
<text x="367.15" y="2197.8" text-anchor="middle" class="a">*</text>
<rect x="1852.6" y="2075" width="49.5" height="20.8" fill="#FFC27E" stroke-width="7.2" class="r"/>
<text x="1937.2" y="2099.9" class="i">ESR1</text>
<rect x="1852.6" y="2146.9" width="49.5" height="20.8" fill="#F0FFC0" stroke-width="7.2" class="r"/>
<text x="1937.2" y="2171.8" class="i">ESR2</text>
<rect x="1852.6" y="2218.8" width="49.5" height="20.8" fill="#60FF99" stroke-width="7.2" class="r"/>
<text x="1937.2" y="2243.7" class="i">HSD17B1</text>
<rect x="1852.6" y="2290.7" width="49.5" height="20.8" fill="#7AC0FA" stroke-width="7.2" class="r"/>
<text x="1937.2" y="2315.6" class="i">HSD17B2</text>
<rect x="1852.6" y="2362.6" width="49.5" height="20.8" fill="#9090FF" stroke-width="7.2" class="r"/>
<text x="1937.2" y="2387.5" class="i">STS</text>
<rect x="1852.6" y="2434.5" width="49.5" height="20.8" fill="#FFAAEE" stroke-width="7.2" class="r"/>
<text x="1937.2" y="2459.4" class="i">SULT1E1</text>
</g>
<g>
<text x="1031.3" y="2945.4" text-anchor="middle" class="b" font-size="51">KLE</text>
<path d="M273.43 3318.1V3304.4M265.68 3304.4H281.18" class="e" stroke-width="5.3"/>
<path d="M320.13 3310.7V3303.7M312.38 3303.7H327.88" class="e" stroke-width="5.3"/>
<path d="M366.83 3311.9V3304.4M359.08 3304.4H374.58" class="e" stroke-width="5.3"/>
<path d="M413.53 3280.1V3265.5M405.78 3265.5H421.28" class="e" stroke-width="5.3"/>
<path d="M460.23 3275.5V3266M452.48 3266H467.98" class="e" stroke-width="5.3"/>
<path d="M538.79 3422.2V3403.1M531.04 3403.1H546.54" class="e" stroke-width="5.3"/>
<path d="M585.49 3408.7V3402M577.74 3402H593.24" class="e" stroke-width="5.3"/>
<path d="M632.19 3403.6V3394.3M624.44 3394.3H639.94" class="e" stroke-width="5.3"/>
<path d="M678.89 3419.4V3412.2M671.14 3412.2H686.64" class="e" stroke-width="5.3"/>
<path d="M725.59 3398.5V3381.1M717.84 3381.1H733.34" class="e" stroke-width="5.3"/>
<path d="M804.15 3403.6V3384.4M796.4 3384.4H811.9" class="e" stroke-width="5.3"/>
<path d="M850.85 3398.5V3391.3M843.1 3391.3H858.6" class="e" stroke-width="5.3"/>
<path d="M897.55 3397.8V3388.5M889.8 3388.5H905.3" class="e" stroke-width="5.3"/>
<path d="M944.25 3409.4V3399M936.5 3399H952" class="e" stroke-width="5.3"/>
<path d="M990.95 3422.2V3404.8M983.2 3404.8H998.7" class="e" stroke-width="5.3"/>
<path d="M1069.51 3325.8V3306.1M1061.76 3306.1H1077.26" class="e" stroke-width="5.3"/>
<path d="M1116.21 3306.3V3289.9M1108.46 3289.9H1123.96" class="e" stroke-width="5.3"/>
<path d="M1162.91 3311.4V3294M1155.16 3294H1170.66" class="e" stroke-width="5.3"/>
<path d="M1209.61 3322.6V3306.8M1201.86 3306.8H1217.36" class="e" stroke-width="5.3"/>
<path d="M1256.31 3317.2V3303.8M1248.56 3303.8H1264.06" class="e" stroke-width="5.3"/>
<path d="M1334.87 3211V3196.7M1327.12 3196.7H1342.62" class="e" stroke-width="5.3"/>
<path d="M1381.57 3201.8V3195M1373.82 3195H1389.32" class="e" stroke-width="5.3"/>
<path d="M1428.27 3199.5V3192M1420.52 3192H1436.02" class="e" stroke-width="5.3"/>
<path d="M1474.97 3229.6V3223.3M1467.22 3223.3H1482.72" class="e" stroke-width="5.3"/>
<path d="M1521.67 3251.8V3244.6M1513.92 3244.6H1529.42" class="e" stroke-width="5.3"/>
<path d="M1600.23 3219.4V3202.7M1592.48 3202.7H1607.98" class="e" stroke-width="5.3"/>
<path d="M1646.93 3217.1V3203.2M1639.18 3203.2H1654.68" class="e" stroke-width="5.3"/>
<path d="M1693.63 3214.8V3203.2M1685.88 3203.2H1701.38" class="e" stroke-width="5.3"/>
<path d="M1740.33 3240.3V3229.8M1732.58 3229.8H1748.08" class="e" stroke-width="5.3"/>
<path d="M1787.03 3283.6V3275M1779.28 3275H1794.78" class="e" stroke-width="5.3"/>
<rect x="261.73" y="3318.1" width="23.4" height="223" fill="#FFC27E" stroke-width="7" class="r"/>
<rect x="308.43" y="3310.7" width="23.4" height="230.4" fill="#FFC27E" stroke-width="7" class="r"/>
<rect x="355.13" y="3311.9" width="23.4" height="229.2" fill="#FFC27E" stroke-width="7" class="r"/>
<rect x="401.83" y="3280.1" width="23.4" height="261" fill="#FFC27E" stroke-width="7" class="r"/>
<rect x="448.53" y="3275.5" width="23.4" height="265.6" fill="#FFC27E" stroke-width="7" class="r"/>
<rect x="527.09" y="3422.2" width="23.4" height="118.9" fill="#F0FFC0" stroke-width="7" class="r"/>
<rect x="573.79" y="3408.7" width="23.4" height="132.4" fill="#F0FFC0" stroke-width="7" class="r"/>
<rect x="620.49" y="3403.6" width="23.4" height="137.5" fill="#F0FFC0" stroke-width="7" class="r"/>
<rect x="667.19" y="3419.4" width="23.4" height="121.7" fill="#F0FFC0" stroke-width="7" class="r"/>
<rect x="713.89" y="3398.5" width="23.4" height="142.6" fill="#F0FFC0" stroke-width="7" class="r"/>
<rect x="792.45" y="3403.6" width="23.4" height="137.5" fill="#60FF99" stroke-width="7" class="r"/>
<rect x="839.15" y="3398.5" width="23.4" height="142.6" fill="#60FF99" stroke-width="7" class="r"/>
<rect x="885.85" y="3397.8" width="23.4" height="143.3" fill="#60FF99" stroke-width="7" class="r"/>
<rect x="932.55" y="3409.4" width="23.4" height="131.7" fill="#60FF99" stroke-width="7" class="r"/>
<rect x="979.25" y="3422.2" width="23.4" height="118.9" fill="#60FF99" stroke-width="7" class="r"/>
<rect x="1057.81" y="3325.8" width="23.4" height="215.3" fill="#7AC0FA" stroke-width="7" class="r"/>
<rect x="1104.51" y="3306.3" width="23.4" height="234.8" fill="#7AC0FA" stroke-width="7" class="r"/>
<rect x="1151.21" y="3311.4" width="23.4" height="229.7" fill="#7AC0FA" stroke-width="7" class="r"/>
<rect x="1197.91" y="3322.6" width="23.4" height="218.5" fill="#7AC0FA" stroke-width="7" class="r"/>
<rect x="1244.61" y="3317.2" width="23.4" height="223.9" fill="#7AC0FA" stroke-width="7" class="r"/>
<rect x="1323.17" y="3211" width="23.4" height="330.1" fill="#9090FF" stroke-width="7" class="r"/>
<rect x="1369.87" y="3201.8" width="23.4" height="339.3" fill="#9090FF" stroke-width="7" class="r"/>
<rect x="1416.57" y="3199.5" width="23.4" height="341.6" fill="#9090FF" stroke-width="7" class="r"/>
<rect x="1463.27" y="3229.6" width="23.4" height="311.5" fill="#9090FF" stroke-width="7" class="r"/>
<rect x="1509.97" y="3251.8" width="23.4" height="289.3" fill="#9090FF" stroke-width="7" class="r"/>
<rect x="1588.53" y="3219.4" width="23.4" height="321.7" fill="#FFAAEE" stroke-width="7" class="r"/>
<rect x="1635.23" y="3217.1" width="23.4" height="324" fill="#FFAAEE" stroke-width="7" class="r"/>
<rect x="1681.93" y="3214.8" width="23.4" height="326.3" fill="#FFAAEE" stroke-width="7" class="r"/>
<rect x="1728.63" y="3240.3" width="23.4" height="300.8" fill="#FFAAEE" stroke-width="7" class="r"/>
<rect x="1775.33" y="3283.6" width="23.4" height="257.5" fill="#FFAAEE" stroke-width="7" class="r"/>
<path d="M242.5 3017.4H1818.7V3541.1H242.5Z" class="l" stroke-width="5.3"/>
<path d="M498.71 3017.4V3541.1" class="l" stroke-width="4.6"/>
<path d="M764.07 3017.4V3541.1" class="l" stroke-width="4.6"/>
<path d="M1029.43 3017.4V3541.1" class="l" stroke-width="4.6"/>
<path d="M1294.79 3017.4V3541.1" class="l" stroke-width="4.6"/>
<path d="M1560.15 3017.4V3541.1" class="l" stroke-width="4.6"/>
<path d="M220 3541.1H242.5" class="l" stroke-width="5.3"/>
<text x="213.9" y="3554.4" text-anchor="end" class="b" font-size="39">10<tspan dx="5.6" dy="-11.6" font-size="26">0</tspan></text>
<path d="M220 3482.91H242.5" class="l" stroke-width="5.3"/>
<text x="213.9" y="3496.21" text-anchor="end" class="b" font-size="39">10<tspan dx="5.6" dy="-11.6" font-size="26">1</tspan></text>
<path d="M220 3424.72H242.5" class="l" stroke-width="5.3"/>
<text x="213.9" y="3438.02" text-anchor="end" class="b" font-size="39">10<tspan dx="5.6" dy="-11.6" font-size="26">2</tspan></text>
<path d="M220 3366.53H242.5" class="l" stroke-width="5.3"/>
<text x="213.9" y="3379.83" text-anchor="end" class="b" font-size="39">10<tspan dx="5.6" dy="-11.6" font-size="26">3</tspan></text>
<path d="M220 3308.34H242.5" class="l" stroke-width="5.3"/>
<text x="213.9" y="3321.64" text-anchor="end" class="b" font-size="39">10<tspan dx="5.6" dy="-11.6" font-size="26">4</tspan></text>
<path d="M220 3250.16H242.5" class="l" stroke-width="5.3"/>
<text x="213.9" y="3263.46" text-anchor="end" class="b" font-size="39">10<tspan dx="5.6" dy="-11.6" font-size="26">5</tspan></text>
<path d="M220 3191.97H242.5" class="l" stroke-width="5.3"/>
<text x="213.9" y="3205.27" text-anchor="end" class="b" font-size="39">10<tspan dx="5.6" dy="-11.6" font-size="26">6</tspan></text>
<path d="M220 3133.78H242.5" class="l" stroke-width="5.3"/>
<text x="213.9" y="3147.08" text-anchor="end" class="b" font-size="39">10<tspan dx="5.6" dy="-11.6" font-size="26">7</tspan></text>
<path d="M220 3075.59H242.5" class="l" stroke-width="5.3"/>
<text x="213.9" y="3088.89" text-anchor="end" class="b" font-size="39">10<tspan dx="5.6" dy="-11.6" font-size="26">8</tspan></text>
<path d="M220 3017.4H242.5" class="l" stroke-width="5.3"/>
<text x="213.9" y="3030.7" text-anchor="end" class="b" font-size="39">10<tspan dx="5.6" dy="-11.6" font-size="26">9</tspan></text>
<path d="M272.63 3541.1V3562.6" class="l" stroke-width="5.3"/>
<text transform="translate(283.43 3598.4) rotate(-45)" text-anchor="end" class="b" font-size="39">control</text>
<path d="M319.33 3541.1V3562.6" class="l" stroke-width="5.3"/>
<text transform="translate(330.13 3598.4) rotate(-45)" text-anchor="end" class="b" font-size="39">5 ng/ml</text>
<path d="M366.03 3541.1V3562.6" class="l" stroke-width="5.3"/>
<text transform="translate(376.83 3598.4) rotate(-45)" text-anchor="end" class="b" font-size="39">500 ng/ml</text>
<path d="M412.73 3541.1V3562.6" class="l" stroke-width="5.3"/>
<text transform="translate(423.53 3598.4) rotate(-45)" text-anchor="end" class="b" font-size="39">50 ug/ml</text>
<path d="M459.43 3541.1V3562.6" class="l" stroke-width="5.3"/>
<text transform="translate(470.23 3598.4) rotate(-45)" text-anchor="end" class="b" font-size="39">100 ug/ml</text>
<path d="M537.99 3541.1V3562.6" class="l" stroke-width="5.3"/>
<text transform="translate(548.79 3598.4) rotate(-45)" text-anchor="end" class="b" font-size="39">control</text>
<path d="M584.69 3541.1V3562.6" class="l" stroke-width="5.3"/>
<text transform="translate(595.49 3598.4) rotate(-45)" text-anchor="end" class="b" font-size="39">5 ng/ml</text>
<path d="M631.39 3541.1V3562.6" class="l" stroke-width="5.3"/>
<text transform="translate(642.19 3598.4) rotate(-45)" text-anchor="end" class="b" font-size="39">500 ng/ml</text>
<path d="M678.09 3541.1V3562.6" class="l" stroke-width="5.3"/>
<text transform="translate(688.89 3598.4) rotate(-45)" text-anchor="end" class="b" font-size="39">50 ug/ml</text>
<path d="M724.79 3541.1V3562.6" class="l" stroke-width="5.3"/>
<text transform="translate(735.59 3598.4) rotate(-45)" text-anchor="end" class="b" font-size="39">100 ug/ml</text>
<path d="M803.35 3541.1V3562.6" class="l" stroke-width="5.3"/>
<text transform="translate(814.15 3598.4) rotate(-45)" text-anchor="end" class="b" font-size="39">control</text>
<path d="M850.05 3541.1V3562.6" class="l" stroke-width="5.3"/>
<text transform="translate(860.85 3598.4) rotate(-45)" text-anchor="end" class="b" font-size="39">5 ng/ml</text>
<path d="M896.75 3541.1V3562.6" class="l" stroke-width="5.3"/>
<text transform="translate(907.55 3598.4) rotate(-45)" text-anchor="end" class="b" font-size="39">500 ng/ml</text>
<path d="M943.45 3541.1V3562.6" class="l" stroke-width="5.3"/>
<text transform="translate(954.25 3598.4) rotate(-45)" text-anchor="end" class="b" font-size="39">50 ug/ml</text>
<path d="M990.15 3541.1V3562.6" class="l" stroke-width="5.3"/>
<text transform="translate(1000.95 3598.4) rotate(-45)" text-anchor="end" class="b" font-size="39">100 ug/ml</text>
<path d="M1068.71 3541.1V3562.6" class="l" stroke-width="5.3"/>
<text transform="translate(1079.51 3598.4) rotate(-45)" text-anchor="end" class="b" font-size="39">control</text>
<path d="M1115.41 3541.1V3562.6" class="l" stroke-width="5.3"/>
<text transform="translate(1126.21 3598.4) rotate(-45)" text-anchor="end" class="b" font-size="39">5 ng/ml</text>
<path d="M1162.11 3541.1V3562.6" class="l" stroke-width="5.3"/>
<text transform="translate(1172.91 3598.4) rotate(-45)" text-anchor="end" class="b" font-size="39">500 ng/ml</text>
<path d="M1208.81 3541.1V3562.6" class="l" stroke-width="5.3"/>
<text transform="translate(1219.61 3598.4) rotate(-45)" text-anchor="end" class="b" font-size="39">50 ug/ml</text>
<path d="M1255.51 3541.1V3562.6" class="l" stroke-width="5.3"/>
<text transform="translate(1266.31 3598.4) rotate(-45)" text-anchor="end" class="b" font-size="39">100 ug/ml</text>
<path d="M1334.07 3541.1V3562.6" class="l" stroke-width="5.3"/>
<text transform="translate(1344.87 3598.4) rotate(-45)" text-anchor="end" class="b" font-size="39">control</text>
<path d="M1380.77 3541.1V3562.6" class="l" stroke-width="5.3"/>
<text transform="translate(1391.57 3598.4) rotate(-45)" text-anchor="end" class="b" font-size="39">5 ng/ml</text>
<path d="M1427.47 3541.1V3562.6" class="l" stroke-width="5.3"/>
<text transform="translate(1438.27 3598.4) rotate(-45)" text-anchor="end" class="b" font-size="39">500 ng/ml</text>
<path d="M1474.17 3541.1V3562.6" class="l" stroke-width="5.3"/>
<text transform="translate(1484.97 3598.4) rotate(-45)" text-anchor="end" class="b" font-size="39">50 ug/ml</text>
<path d="M1520.87 3541.1V3562.6" class="l" stroke-width="5.3"/>
<text transform="translate(1531.67 3598.4) rotate(-45)" text-anchor="end" class="b" font-size="39">100 ug/ml</text>
<path d="M1599.43 3541.1V3562.6" class="l" stroke-width="5.3"/>
<text transform="translate(1610.23 3598.4) rotate(-45)" text-anchor="end" class="b" font-size="39">control</text>
<path d="M1646.13 3541.1V3562.6" class="l" stroke-width="5.3"/>
<text transform="translate(1656.93 3598.4) rotate(-45)" text-anchor="end" class="b" font-size="39">5 ng/ml</text>
<path d="M1692.83 3541.1V3562.6" class="l" stroke-width="5.3"/>
<text transform="translate(1703.63 3598.4) rotate(-45)" text-anchor="end" class="b" font-size="39">500 ng/ml</text>
<path d="M1739.53 3541.1V3562.6" class="l" stroke-width="5.3"/>
<text transform="translate(1750.33 3598.4) rotate(-45)" text-anchor="end" class="b" font-size="39">50 ug/ml</text>
<path d="M1786.23 3541.1V3562.6" class="l" stroke-width="5.3"/>
<text transform="translate(1797.03 3598.4) rotate(-45)" text-anchor="end" class="b" font-size="39">100 ug/ml</text>
<text x="1030" y="3787.7" text-anchor="middle" class="b" font-size="43">concentration of Cimicifuga racemosa</text>
<text transform="translate(69.7 3279) rotate(-90)" text-anchor="middle" class="b" font-size="43">normalized mRNA</text>
<path d="M271.3 3166.6H463M271.3 3154.6V3178.6M463 3154.6V3178.6" class="s"/>
<text x="368.65" y="3153.8" text-anchor="middle" class="a" letter-spacing="3">**</text>
<path d="M269.5 3227.3H415.5M269.5 3215.3V3239.3M415.5 3215.3V3239.3" class="s"/>
<text x="342.5" y="3214.5" text-anchor="middle" class="a">*</text>
<path d="M1332.4 3120.7H1525.9M1332.4 3108.7V3132.7M1525.9 3108.7V3132.7" class="s"/>
<text x="1429.15" y="3107.9" text-anchor="middle" class="a">*</text>
<rect x="1852.6" y="3043.3" width="49.5" height="20.8" fill="#FFC27E" stroke-width="7.2" class="r"/>
<text x="1937.2" y="3068.2" class="i">ESR1</text>
<rect x="1852.6" y="3115.4" width="49.5" height="20.8" fill="#F0FFC0" stroke-width="7.2" class="r"/>
<text x="1937.2" y="3140.3" class="i">ESR2</text>
<rect x="1852.6" y="3187.5" width="49.5" height="20.8" fill="#60FF99" stroke-width="7.2" class="r"/>
<text x="1937.2" y="3212.4" class="i">HSD17B1</text>
<rect x="1852.6" y="3259.6" width="49.5" height="20.8" fill="#7AC0FA" stroke-width="7.2" class="r"/>
<text x="1937.2" y="3284.5" class="i">HSD17B2</text>
<rect x="1852.6" y="3331.7" width="49.5" height="20.8" fill="#9090FF" stroke-width="7.2" class="r"/>
<text x="1937.2" y="3356.6" class="i">STS</text>
<rect x="1852.6" y="3403.8" width="49.5" height="20.8" fill="#FFAAEE" stroke-width="7.2" class="r"/>
<text x="1937.2" y="3428.7" class="i">SULT1E1</text>
</g>
<g>
<text x="1019.6" y="3905.7" text-anchor="middle" class="b" font-size="49">HIEEC</text>
<path d="M287.17 4229.5V4215.9M275.92 4215.9H298.42" class="e" stroke-width="5.3"/>
<path d="M359.07 4225.8V4210.1M347.82 4210.1H370.32" class="e" stroke-width="5.3"/>
<path d="M430.97 4219.5V4205.5M419.72 4205.5H442.22" class="e" stroke-width="5.3"/>
<path d="M551.01 4315.6V4297M539.76 4297H562.26" class="e" stroke-width="5.3"/>
<path d="M622.91 4304V4290M611.66 4290H634.16" class="e" stroke-width="5.3"/>
<path d="M694.81 4311.7V4294.6M683.56 4294.6H706.06" class="e" stroke-width="5.3"/>
<path d="M814.85 4491.7V4464M803.6 4464H826.1" class="e" stroke-width="5.3"/>
<path d="M886.75 4387.6V4355.8M875.5 4355.8H898" class="e" stroke-width="5.3"/>
<path d="M1078.69 4254.3V4229.1M1067.44 4229.1H1089.94" class="e" stroke-width="5.3"/>
<path d="M1150.59 4252V4228.2M1139.34 4228.2H1161.84" class="e" stroke-width="5.3"/>
<path d="M1222.49 4261.9V4236.8M1211.24 4236.8H1233.74" class="e" stroke-width="5.3"/>
<path d="M1342.53 4166.6V4148.4M1331.28 4148.4H1353.78" class="e" stroke-width="5.3"/>
<path d="M1414.43 4156.6V4140.3M1403.18 4140.3H1425.68" class="e" stroke-width="5.3"/>
<path d="M1486.33 4158.9V4142.6M1475.08 4142.6H1497.58" class="e" stroke-width="5.3"/>
<path d="M1606.37 4201.8V4171.1M1595.12 4171.1H1617.62" class="e" stroke-width="5.3"/>
<path d="M1678.27 4137.6V4107.3M1667.02 4107.3H1689.52" class="e" stroke-width="5.3"/>
<path d="M1750.17 4115.6V4091.1M1738.92 4091.1H1761.42" class="e" stroke-width="5.3"/>
<rect x="267.02" y="4229.5" width="40.3" height="262.2" fill="#FFC27E" stroke-width="7.2" class="r"/>
<rect x="338.92" y="4225.8" width="40.3" height="265.9" fill="#FFC27E" stroke-width="7.2" class="r"/>
<rect x="410.82" y="4219.5" width="40.3" height="272.2" fill="#FFC27E" stroke-width="7.2" class="r"/>
<rect x="530.86" y="4315.6" width="40.3" height="176.1" fill="#F0FFC0" stroke-width="7.2" class="r"/>
<rect x="602.76" y="4304" width="40.3" height="187.7" fill="#F0FFC0" stroke-width="7.2" class="r"/>
<rect x="674.66" y="4311.7" width="40.3" height="180" fill="#F0FFC0" stroke-width="7.2" class="r"/>
<rect x="866.6" y="4387.6" width="40.3" height="104.1" fill="#60FF99" stroke-width="7.2" class="r"/>
<rect x="1058.54" y="4254.3" width="40.3" height="237.4" fill="#7AC0FA" stroke-width="7.2" class="r"/>
<rect x="1130.44" y="4252" width="40.3" height="239.7" fill="#7AC0FA" stroke-width="7.2" class="r"/>
<rect x="1202.34" y="4261.9" width="40.3" height="229.8" fill="#7AC0FA" stroke-width="7.2" class="r"/>
<rect x="1322.38" y="4166.6" width="40.3" height="325.1" fill="#9090FF" stroke-width="7.2" class="r"/>
<rect x="1394.28" y="4156.6" width="40.3" height="335.1" fill="#9090FF" stroke-width="7.2" class="r"/>
<rect x="1466.18" y="4158.9" width="40.3" height="332.8" fill="#9090FF" stroke-width="7.2" class="r"/>
<rect x="1586.22" y="4201.8" width="40.3" height="289.9" fill="#FFAAEE" stroke-width="7.2" class="r"/>
<rect x="1658.12" y="4137.6" width="40.3" height="354.1" fill="#FFAAEE" stroke-width="7.2" class="r"/>
<rect x="1730.02" y="4115.6" width="40.3" height="376.1" fill="#FFAAEE" stroke-width="7.2" class="r"/>
<path d="M239.2 3974.2H1798.9V4491.7H239.2Z" class="l" stroke-width="5.3"/>
<path d="M490.19 3974.2V4491.7" class="l" stroke-width="4.6"/>
<path d="M754.03 3974.2V4491.7" class="l" stroke-width="4.6"/>
<path d="M1017.87 3974.2V4491.7" class="l" stroke-width="4.6"/>
<path d="M1281.71 3974.2V4491.7" class="l" stroke-width="4.6"/>
<path d="M1545.55 3974.2V4491.7" class="l" stroke-width="4.6"/>
<path d="M216.7 4491.7H239.2" class="l" stroke-width="5.3"/>
<text x="210.6" y="4505" text-anchor="end" class="b" font-size="39">10<tspan dx="5.6" dy="-11.6" font-size="26">0</tspan></text>
<path d="M216.7 4434.2H239.2" class="l" stroke-width="5.3"/>
<text x="210.6" y="4447.5" text-anchor="end" class="b" font-size="39">10<tspan dx="5.6" dy="-11.6" font-size="26">1</tspan></text>
<path d="M216.7 4376.7H239.2" class="l" stroke-width="5.3"/>
<text x="210.6" y="4390" text-anchor="end" class="b" font-size="39">10<tspan dx="5.6" dy="-11.6" font-size="26">2</tspan></text>
<path d="M216.7 4319.2H239.2" class="l" stroke-width="5.3"/>
<text x="210.6" y="4332.5" text-anchor="end" class="b" font-size="39">10<tspan dx="5.6" dy="-11.6" font-size="26">3</tspan></text>
<path d="M216.7 4261.7H239.2" class="l" stroke-width="5.3"/>
<text x="210.6" y="4275" text-anchor="end" class="b" font-size="39">10<tspan dx="5.6" dy="-11.6" font-size="26">4</tspan></text>
<path d="M216.7 4204.2H239.2" class="l" stroke-width="5.3"/>
<text x="210.6" y="4217.5" text-anchor="end" class="b" font-size="39">10<tspan dx="5.6" dy="-11.6" font-size="26">5</tspan></text>
<path d="M216.7 4146.7H239.2" class="l" stroke-width="5.3"/>
<text x="210.6" y="4160" text-anchor="end" class="b" font-size="39">10<tspan dx="5.6" dy="-11.6" font-size="26">6</tspan></text>
<path d="M216.7 4089.2H239.2" class="l" stroke-width="5.3"/>
<text x="210.6" y="4102.5" text-anchor="end" class="b" font-size="39">10<tspan dx="5.6" dy="-11.6" font-size="26">7</tspan></text>
<path d="M216.7 4031.7H239.2" class="l" stroke-width="5.3"/>
<text x="210.6" y="4045" text-anchor="end" class="b" font-size="39">10<tspan dx="5.6" dy="-11.6" font-size="26">8</tspan></text>
<path d="M216.7 3974.2H239.2" class="l" stroke-width="5.3"/>
<text x="210.6" y="3987.5" text-anchor="end" class="b" font-size="39">10<tspan dx="5.6" dy="-11.6" font-size="26">9</tspan></text>
<path d="M286.37 4491.7V4513.2" class="l" stroke-width="5.3"/>
<text transform="translate(297.17 4549) rotate(-45)" text-anchor="end" class="b" font-size="39">control</text>
<path d="M358.27 4491.7V4513.2" class="l" stroke-width="5.3"/>
<text transform="translate(369.07 4549) rotate(-45)" text-anchor="end" class="b" font-size="39">5 ng/ml</text>
<path d="M430.17 4491.7V4513.2" class="l" stroke-width="5.3"/>
<text transform="translate(440.97 4549) rotate(-45)" text-anchor="end" class="b" font-size="39">500 ng/ml</text>
<path d="M550.21 4491.7V4513.2" class="l" stroke-width="5.3"/>
<text transform="translate(561.01 4549) rotate(-45)" text-anchor="end" class="b" font-size="39">control</text>
<path d="M622.11 4491.7V4513.2" class="l" stroke-width="5.3"/>
<text transform="translate(632.91 4549) rotate(-45)" text-anchor="end" class="b" font-size="39">5 ng/ml</text>
<path d="M694.01 4491.7V4513.2" class="l" stroke-width="5.3"/>
<text transform="translate(704.81 4549) rotate(-45)" text-anchor="end" class="b" font-size="39">500 ng/ml</text>
<path d="M814.05 4491.7V4513.2" class="l" stroke-width="5.3"/>
<text transform="translate(824.85 4549) rotate(-45)" text-anchor="end" class="b" font-size="39">control</text>
<path d="M885.95 4491.7V4513.2" class="l" stroke-width="5.3"/>
<text transform="translate(896.75 4549) rotate(-45)" text-anchor="end" class="b" font-size="39">5 ng/ml</text>
<path d="M957.85 4491.7V4513.2" class="l" stroke-width="5.3"/>
<text transform="translate(968.65 4549) rotate(-45)" text-anchor="end" class="b" font-size="39">500 ng/ml</text>
<path d="M1077.89 4491.7V4513.2" class="l" stroke-width="5.3"/>
<text transform="translate(1088.69 4549) rotate(-45)" text-anchor="end" class="b" font-size="39">control</text>
<path d="M1149.79 4491.7V4513.2" class="l" stroke-width="5.3"/>
<text transform="translate(1160.59 4549) rotate(-45)" text-anchor="end" class="b" font-size="39">5 ng/ml</text>
<path d="M1221.69 4491.7V4513.2" class="l" stroke-width="5.3"/>
<text transform="translate(1232.49 4549) rotate(-45)" text-anchor="end" class="b" font-size="39">500 ng/ml</text>
<path d="M1341.73 4491.7V4513.2" class="l" stroke-width="5.3"/>
<text transform="translate(1352.53 4549) rotate(-45)" text-anchor="end" class="b" font-size="39">control</text>
<path d="M1413.63 4491.7V4513.2" class="l" stroke-width="5.3"/>
<text transform="translate(1424.43 4549) rotate(-45)" text-anchor="end" class="b" font-size="39">5 ng/ml</text>
<path d="M1485.53 4491.7V4513.2" class="l" stroke-width="5.3"/>
<text transform="translate(1496.33 4549) rotate(-45)" text-anchor="end" class="b" font-size="39">500 ng/ml</text>
<path d="M1605.57 4491.7V4513.2" class="l" stroke-width="5.3"/>
<text transform="translate(1616.37 4549) rotate(-45)" text-anchor="end" class="b" font-size="39">control</text>
<path d="M1677.47 4491.7V4513.2" class="l" stroke-width="5.3"/>
<text transform="translate(1688.27 4549) rotate(-45)" text-anchor="end" class="b" font-size="39">5 ng/ml</text>
<path d="M1749.37 4491.7V4513.2" class="l" stroke-width="5.3"/>
<text transform="translate(1760.17 4549) rotate(-45)" text-anchor="end" class="b" font-size="39">500 ng/ml</text>
<text x="1019" y="4732.5" text-anchor="middle" class="b" font-size="42.05">concentration of Cimicifuga racemosa</text>
<text transform="translate(68.1 4231.9) rotate(-90)" text-anchor="middle" class="b" font-size="42.05">normalized mRNA</text>
<rect x="1854.5" y="4000.3" width="49.5" height="20.8" fill="#FFC27E" stroke-width="7.2" class="r"/>
<text x="1938.3" y="4027" class="i">ESR1</text>
<rect x="1854.5" y="4052.2" width="49.5" height="20.8" fill="#F0FFC0" stroke-width="7.2" class="r"/>
<text x="1938.3" y="4077.2" class="i">ESR2</text>
<rect x="1854.5" y="4108.7" width="49.5" height="20.8" fill="#60FF99" stroke-width="7.2" class="r"/>
<text x="1938.3" y="4134.3" class="i">HSD17B1</text>
<rect x="1854.5" y="4166" width="49.5" height="20.8" fill="#7AC0FA" stroke-width="7.2" class="r"/>
<text x="1938.3" y="4191.5" class="i">HSD17B2</text>
<rect x="1854.5" y="4225.8" width="49.5" height="20.8" fill="#9090FF" stroke-width="7.2" class="r"/>
<text x="1938.3" y="4250" class="i">STS</text>
<rect x="1854.5" y="4282.5" width="49.5" height="20.8" fill="#FFAAEE" stroke-width="7.2" class="r"/>
<text x="1938.3" y="4307.3" class="i">SULT1E1</text>
</g>
</svg>
</body></html>
